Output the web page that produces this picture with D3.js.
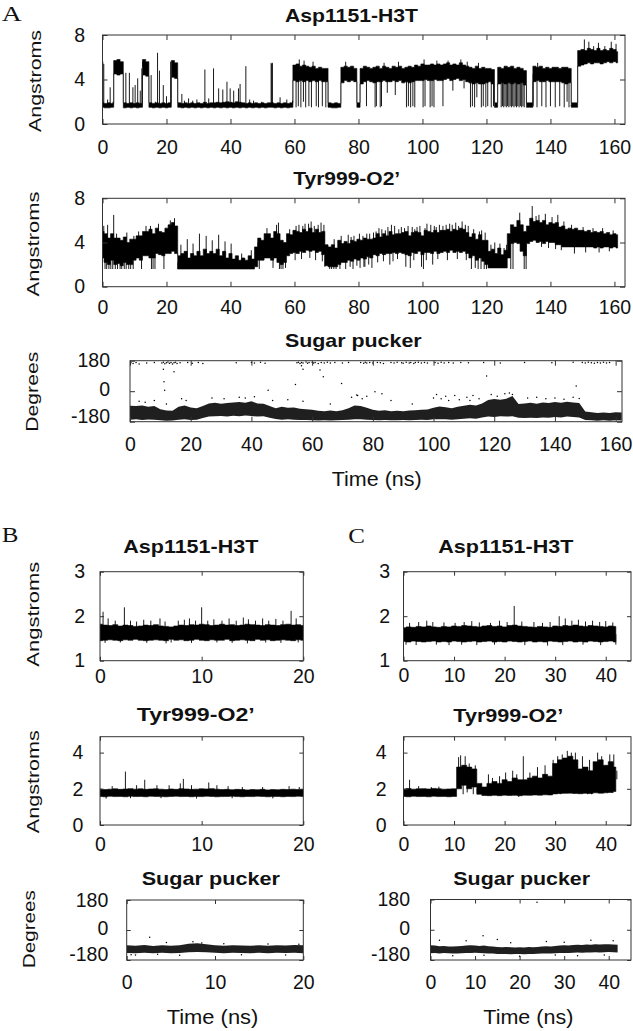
<!DOCTYPE html>
<html><head><meta charset="utf-8">
<script src="https://cdn.jsdelivr.net/npm/d3@7"></script>
<style>body{margin:0;background:#fff}svg{display:block}</style>
</head><body>
<svg id="c" width="633" height="1031"></svg>
<script>
// ================= DATA =================
// Each distance trace = dense core band (lower/upper edge per time step) + isolated excursions (time, value).

// ---- Panel A, Asp1151-H3T (Angstroms), band every 1 ns ----
const aspALo = [
1.5,1.45,1.45,1.5,4.5,4.4,4.5,1.45,1.5,1.45, 1.5,1.45,1.5,4.4,4.3,1.5,1.45,1.5,1.45,1.5,
1.45,1.5,4.2,4.1,1.5,1.45,1.5,1.45,1.5,1.45, 1.5,1.45,1.5,1.45,1.5,1.45,1.5,1.45,1.5,1.45,
1.5,1.45,1.5,1.45,1.5,1.45,1.5,1.45,1.5,1.45, 1.5,1.45,1.5,1.5,1.45,1.5,1.45,1.5,1.45,1.5,
3.9,3.8,3.9,3.8,3.9,3.8,3.9,3.8,3.9,3.8, 3.8,1.5,1.45,1.45,1.5,3.7,3.9,3.8,3.9,3.8,
1.5,3.6,3.8,3.9,3.8,3.7,3.8,3.8,3.9,3.8, 3.8,3.9,3.8,3.9,3.7,3.8,3.7,3.8,3.9,3.9,
3.9,4.0,3.9,3.9,4.0,3.9,3.9,4.0,4.1,3.9, 4.0,4.1,3.9,4.0,3.8,3.7,3.6,3.7,3.6,3.6,
3.7,3.8,3.6,1.5,3.6,3.7,3.6,3.7,3.6,3.7, 3.6,3.7,3.5,1.5,1.5,3.8,3.9,3.8,3.8,3.9,
3.8,3.8,3.8,3.8,3.7,3.6,3.7,1.5,1.5,5.2, 5.3,5.4,5.5,5.4,5.5,5.5,5.4,5.5,5.6,5.5,
5.6,5.5];
const aspAHi = [
1.9,1.85,1.9,1.85,5.7,5.8,5.6,1.9,1.85,1.9, 1.85,1.9,1.85,5.8,5.6,1.9,1.85,1.9,1.85,1.9,
1.85,1.9,5.7,5.5,1.9,1.85,1.9,1.85,1.9,1.85, 1.9,1.85,1.95,1.85,1.9,1.9,1.95,1.9,1.95,2.0,
1.95,1.9,2.0,1.95,1.9,1.85,1.9,1.85,1.9,1.85, 1.9,1.85,1.9,1.9,1.85,1.9,1.85,1.9,1.85,1.9,
5.3,5.4,5.2,5.3,5.2,5.1,5.2,5.0,5.1,5.0, 5.0,1.9,1.85,1.9,1.85,5.1,5.2,5.1,5.2,5.0,
1.9,5.0,5.2,5.1,5.0,5.1,5.2,5.0,5.2,5.1, 5.0,5.2,5.1,5.2,5.0,5.1,5.2,5.1,5.3,5.2,
5.4,5.3,5.3,5.4,5.3,5.4,5.3,5.4,5.5,5.3, 5.4,5.3,5.5,5.3,5.2,5.1,5.0,5.2,5.0,5.1,
5.0,5.0,4.9,1.9,5.1,5.0,5.2,5.1,5.2,5.0, 5.1,5.0,4.8,1.9,1.9,5.2,5.1,5.2,5.0,5.1,
5.0,5.1,5.1,5.0,5.1,5.1,5.0,1.9,1.9,6.6, 6.7,6.6,6.8,6.7,6.6,6.8,6.6,6.7,6.6,6.8,
6.7,6.5];
const aspASpT = [0.1,0.4,1.6,2.4,3.3,7.3,8.4,9.5,10.2,11.0,11.8,12.3,12.6,15.2,16.5,17.2,17.8,19.0,20.0,21.3,
24.8,25.6,26.9,28.2,29.5,32.0,33.2,34.7,36.3,37.6,38.9,39.9,41.0,42.5,43.0,44.8,46.0,47.2,49.8,52.7,
52.9,53.1,55.5,57.6,59.4,
60.5,61.2,62.0,62.8,63.5,64.5,65.3,66.8,67.5,68.7,69.8,70.6,82.5,85.2,85.6,86.8,87.2,89.0,91.5,95.0,
95.6,96.3,97.0,97.6,100.2,100.8,102.4,103.0,103.6,106.4,109.5,113.0,115.0,115.6,116.3,117.0,118.4,119.0,119.8,120.4,
121.5,122.2,124.6,125.0,125.4,125.8,126.2,126.6,127.0,127.4,127.8,128.2,128.6,129.0,129.4,129.8,130.2,130.6,131.0,131.4,
131.8,134.6,135.8,137.3,138.6,140.0,141.5,142.9,144.3,145.2,145.8,146.5,
61.5,63.0,65.8,76.0,88.0,92.5,100.5,104.5,108.0,112.0,114.0,117.5,136.0,150.6,152.0,153.5,155.0,157.0,159.0,160.5];
const aspASpV = [5.6,5.4,2.2,3.3,2.0,4.6,4.6,3.3,3.5,4.1,3.0,5.0,5.6,4.4,2.0,6.4,4.8,3.5,2.5,5.6,
2.7,2.1,2.3,2.1,2.2,4.9,2.3,5.0,3.2,3.1,3.8,3.2,3.0,3.2,3.6,5.2,2.2,2.1,2.0,5.5,
5.4,5.5,2.4,2.2,2.1,
1.5,1.6,1.5,2.0,1.5,1.6,1.5,1.6,1.5,1.6,1.5,1.6,1.6,1.5,1.6,1.5,1.6,2.8,2.6,1.5,
1.6,1.5,1.6,1.5,1.5,1.6,1.5,1.6,1.5,1.6,3.0,3.2,1.5,1.6,1.5,2.4,1.5,1.6,1.5,1.6,
1.5,1.6,1.5,1.6,1.5,1.6,1.5,1.6,1.5,1.6,1.5,1.6,1.5,1.6,1.5,1.6,1.5,1.6,1.5,1.6,
1.5,1.6,1.5,1.6,1.5,1.6,1.5,1.6,1.5,2.0,1.5,1.6,
5.8,5.7,5.6,5.6,5.5,5.6,5.8,5.7,5.7,5.8,5.6,5.5,5.5,7.6,7.4,7.0,7.3,7.0,7.4,7.2];

// ---- Panel A, Tyr999-O2' (Angstroms), band every 1 ns ----
const tyrALo = [
2.6,2.2,2.0,2.4,2.0,2.1,1.9,2.2,2.0,2.0, 2.4,2.6,2.4,2.8,2.8,2.6,2.6,3.0,2.9,2.8,
3.0,3.0,3.2,3.0,1.6,1.6,1.6,1.6,1.6,1.6, 1.6,1.6,1.6,1.6,1.6,1.6,1.6,1.6,1.6,1.6,
1.6,1.6,1.6,1.6,1.6,1.6,1.6,1.6,1.8,2.4, 2.4,2.6,2.6,2.4,2.6,2.2,2.0,2.2,2.8,3.0,
3.1,3.0,3.2,3.1,3.3,3.2,3.3,3.1,3.2,2.9, 1.9,1.8,1.8,1.8,2.0,2.2,2.2,2.4,2.3,2.5,
2.4,2.6,2.5,2.7,2.6,2.9,2.8,3.0,2.9,3.0, 3.0,3.1,3.0,3.1,3.0,2.9,2.8,3.1,3.0,3.2,
2.9,3.1,3.1,3.0,3.2,3.0,3.1,3.2,3.1,3.3, 3.1,3.2,3.1,3.2,3.0,2.6,2.8,2.4,2.6,2.3,
2.0,1.7,1.7,1.7,1.7,1.7,1.7,2.6,3.9,4.0, 3.9,3.2,2.8,3.9,4.1,4.2,4.0,4.1,3.9,4.1,
4.0,4.0,3.8,3.8,3.6,3.6,3.6,3.6,3.6,3.6, 3.6,3.6,3.6,3.6,3.5,3.6,3.5,3.6,3.6,3.5,
3.6,3.5];
const tyrAHi = [
5.0,4.8,4.4,4.8,4.4,4.4,4.2,4.5,4.0,4.3, 4.3,4.6,4.6,5.0,5.0,5.2,4.8,5.3,5.0,4.9,
5.3,5.6,5.8,5.5,2.8,3.0,3.2,2.6,3.0,2.8, 3.2,2.8,3.4,3.0,3.2,3.0,3.4,2.8,3.2,2.6,
3.0,2.5,2.8,2.4,2.6,2.4,2.8,2.5,3.6,4.4, 4.2,4.8,4.8,4.4,5.0,4.8,4.2,4.0,4.8,4.7,
5.1,5.0,4.9,5.2,5.0,5.3,4.9,5.2,4.9,5.0, 3.8,3.6,3.8,3.5,4.2,3.9,4.1,3.9,4.2,4.1,
4.3,4.2,4.4,4.3,4.3,4.4,4.8,4.5,4.8,4.6, 5.0,4.7,4.8,4.8,4.9,5.0,4.6,4.9,5.0,4.9,
4.6,5.1,5.0,4.9,5.1,4.9,5.1,5.1,5.2,5.0, 5.2,5.1,5.3,5.2,4.9,4.5,4.8,4.3,4.7,4.2,
4.2,3.2,3.4,3.0,3.5,2.9,3.3,4.8,5.6,5.4, 6.0,5.6,5.0,5.5,6.2,5.9,6.0,5.8,6.0,5.6,
5.8,5.7,5.8,5.4,5.5,5.2,5.3,5.2,5.3,5.1, 5.1,5.0,5.1,4.9,5.0,4.9,5.0,4.8,4.9,4.7,
4.8,4.7];
const tyrASpT = [0.8,1.3,2.0,2.6,3.2,4.0,4.7,5.5,6.0,6.8,7.4,8.2,8.8,9.6,12.2,15.3,15.8,16.4,19.2,23.6,
49.0,53.3,55.3,55.8,56.4,57.2,69.5,71.0,71.6,72.3,73.0,74.2,76.0,78.3,80.5,82.0,84.2,89.8,94.8,96.2,
99.7,100.3,103.2,115.3,116.5,117.4,118.3,119.3,120.0,127.6,128.3,131.8,132.4,
60.2,62.2,64.8,66.6,68.7,77.4,79.5,81.7,83.2,86.0,87.8,90.8,92.2,97.3,101.2,104.8,107.8,110.9,113.7,147.5,
151.0,155.2,158.4,139.4,141.6,143.4,137.2,
0.4,1.6,3.5,4.4,7.6,9.8,11.3,13.6,15.0,17.5,21.2,22.5,24.5,26.5,28.3,30.3,32.4,34.3,36.3,38.3,
40.2,43.5,46.5,48.6,51.4,54.4,55.0,58.5,60.5,63.3,65.2,67.4,69.2,72.4,74.6,78.6,82.6,86.4,88.4,90.3,
94.4,95.5,98.3,101.4,104.3,106.4,108.5,112.4,118.5,130.4,134.3,135.5,136.4,138.4,140.5,142.3,144.2,146.6,150.2,153.3,
156.3,159.6,
61.4,62.6,64.4,66.2,68.3,76.8,77.7,80.3,81.4,83.5,84.7,85.5,87.3,89.2,91.3,92.6,93.4,96.8,97.6,99.2,
100.8,102.6,103.7,105.3,107.4,109.3,110.4,111.3,113.4,114.3,116.0,117.8,119.6,121.4,122.6,124.2,125.5,126.3];
const tyrASpV = [1.6,1.6,1.6,1.6,1.6,1.6,1.6,1.6,1.6,1.6,1.6,1.6,1.6,1.6,1.6,1.6,1.6,1.6,1.6,1.6,
1.6,1.7,1.6,1.6,1.6,1.7,1.8,1.6,1.6,1.6,1.6,1.6,1.6,1.6,1.7,1.8,1.7,2.0,1.8,1.7,
1.8,1.6,2.0,1.6,1.7,1.6,1.6,1.6,1.6,1.6,1.6,1.6,1.6,
2.4,2.5,2.6,2.4,2.3,1.8,1.9,1.8,2.0,2.2,2.3,2.3,2.5,2.4,2.4,2.5,2.4,2.5,2.4,3.0,
3.1,3.1,3.2,3.5,3.4,3.3,3.6,
5.5,5.6,6.5,4.8,4.9,4.6,5.0,5.5,5.5,5.7,6.0,6.2,3.8,4.3,3.9,4.8,4.6,4.2,4.7,4.1,
3.9,3.0,3.3,4.0,5.3,5.6,5.8,5.2,5.5,5.7,5.9,5.6,5.6,4.3,4.6,4.6,4.8,5.3,5.1,5.6,
5.3,5.5,5.4,5.7,5.4,5.5,5.7,5.9,5.1,6.7,7.3,6.4,6.5,6.6,6.3,6.5,5.9,5.6,5.4,5.3,
5.3,5.1,
5.6,5.5,5.7,5.5,5.8,4.7,4.5,4.8,4.6,4.8,4.9,5.0,5.2,5.4,5.5,5.2,5.4,5.4,5.2,5.5,
5.3,5.6,5.5,5.6,5.6,5.6,5.8,5.5,5.6,5.5,5.2,5.0,4.9,3.8,4.0,3.9,3.5,3.8];

// ---- Panel A, sugar pucker (degrees): dense band edges every 2 ns + isolated points ----
const sugarALo = [-168,-166,-170,-167,-168,-172,-174,-173,-168,-166,-170,-168,-158,-150,-148,-146,-150,-145,-148,-144,-146,-150,-148,-156,-164,-168,-166,-168,-170,-170,-172,-173,-172,-173,-172,-170,-168,-165,-166,-168,-170,-172,-170,-172,-172,-170,-171,-170,-168,-170,-166,-165,-166,-168,-165,-162,-160,-162,-155,-150,-152,-148,-150,-148,-156,-158,-156,-158,-155,-156,-152,-155,-150,-152,-155,-170,-172,-174,-172,-174,-172,-173];
const sugarAHi = [-86,-88,-84,-92,-88,-106,-114,-116,-92,-84,-96,-100,-88,-72,-68,-74,-70,-66,-63,-68,-60,-72,-74,-88,-100,-92,-98,-96,-104,-106,-110,-116,-118,-114,-118,-112,-100,-84,-88,-98,-110,-116,-112,-118,-116,-118,-114,-112,-110,-108,-98,-90,-94,-100,-92,-86,-80,-84,-72,-52,-46,-50,-44,-28,-76,-72,-68,-74,-66,-70,-64,-68,-62,-66,-70,-120,-124,-128,-126,-128,-124,-126];
const sugarAPtT = [0.3,1,2,3,5.5,8,10.5,11,11.5,12,12.5,13,13.5,14,14.5,15,15.5,16.5,19,20.5,22.5,24,35,40,41,43,44.5,55,55.5,56,56.5,57,58,58.5,59,60,60.5,61,62,63,64,65,66,67.5,70,72,76,77,77.5,78,79,80,81.5,82.5,83.5,86,87,88,89.5,90,91,92,92.5,93.5,94,95,96,97,98,100.5,101.5,102.5,103.5,105,106.5,109,111.5,116.5,122,130,139,146,149,150,151,152,153,154,155,156,157,158,
11,11.2,11.4,14.5,45.5,54.5,56.5,57,62.6,63.7,69.7,74.7,80.7,117.5,147,
3,5,8,12,17,18.5,27,31,36,38,41,47,52,57,66,73,75,76.5,78,83,86,93,100,101,102.5,104,105,107,108.5,111,112,113,115,119,121,123.5,125,126,131,134,137,140,143,146,148];
const sugarAPtV = [168,164,170,160,167,170,166,171,162,168,172,165,170,160,168,171,164,168,170,165,169,163,168,170,166,171,165,168,171,164,170,166,172,165,169,171,166,170,164,170,167,171,166,170,166,170,169,165,171,167,170,166,170,168,164,170,166,171,168,165,171,167,170,164,169,171,166,170,167,170,165,171,167,170,166,170,168,170,166,170,168,171,170,166,171,168,165,170,167,171,166,169,
130,56,6,115,5,40,150,130,125,85,46,-23,-3,90,30,
-60,-65,-55,-75,-45,-55,-40,-45,-35,-40,-33,-55,-50,-60,-75,-35,-25,-45,-30,-15,-55,-75,-40,-20,-45,-30,-55,-25,-50,-35,-55,-25,-45,-20,-30,-15,-10,-20,-40,-35,-45,-40,-47,-35,-43];

// ---- Panel B (Angstroms / degrees), bands every 0.5 ns ----
const aspBLo = [1.45,1.46,1.47,1.46,1.45,1.47,1.46,1.48,1.46,1.45,1.46,1.47,1.46,1.45,1.48,1.46,1.47,1.45,1.46,1.48,1.46,1.45,1.47,1.46,1.46,1.48,1.45,1.46,1.47,1.46,1.45,1.48,1.46,1.47,1.45,1.46,1.47,1.46,1.45,1.47,1.46];
const aspBHi = [1.82,1.8,1.79,1.81,1.78,1.8,1.79,1.77,1.78,1.8,1.79,1.81,1.78,1.77,1.76,1.78,1.8,1.79,1.81,1.8,1.82,1.81,1.79,1.8,1.82,1.8,1.81,1.79,1.8,1.82,1.81,1.8,1.79,1.81,1.8,1.79,1.81,1.82,1.8,1.81,1.79];
const aspBSpT = [0.3,0.8,1.5,2.4,3.0,3.6,4.3,5.0,5.9,6.4,7.7,8.3,8.8,9.4,10.0,10.6,11.2,12.0,12.7,13.4,14.1,14.6,15.3,16.0,16.6,17.3,18.0,18.8,19.3,
0.5,2.0,4.6,6.5,7.0,9.0,11.5,13.0,14.5,16.3,17.8,19.5];
const aspBSpV = [2.1,1.95,1.9,2.2,1.9,1.88,1.92,1.9,1.95,1.88,1.9,1.92,1.95,1.9,2.2,1.9,1.93,1.9,1.95,1.9,1.97,1.93,1.9,1.95,1.9,1.94,1.9,2.12,1.95,
1.4,1.41,1.4,1.39,1.41,1.4,1.41,1.4,1.39,1.41,1.4,1.41];
const tyrBLo = [1.58,1.56,1.59,1.57,1.58,1.56,1.59,1.57,1.58,1.56,1.59,1.58,1.57,1.56,1.58,1.59,1.57,1.58,1.56,1.58,1.57,1.59,1.58,1.56,1.57,1.58,1.59,1.57,1.56,1.58,1.57,1.59,1.58,1.56,1.57,1.58,1.56,1.58,1.57,1.59,1.58];
const tyrBHi = [1.99,1.96,1.98,2.0,1.97,1.99,2.01,1.98,2.0,1.97,1.99,2.0,1.98,1.96,1.99,1.97,2.01,1.99,1.97,1.98,2.0,1.99,2.01,1.98,1.96,1.97,1.95,1.97,1.96,1.94,1.96,1.95,1.97,1.94,1.96,1.95,1.97,1.96,1.98,1.96,1.97];
const tyrBSpT = [2.5,1.2,4.4,3.6,5.6,6.8,7.9,8.2,9.0,10.7,11.5,12.6,14.0,16.0,18.6,19.6,0.6,3.0,6.0,9.5,13.0,17.0];
const tyrBSpV = [2.95,2.15,2.5,2.2,2.2,2.2,2.3,2.55,2.2,2.35,2.2,2.15,2.1,2.1,2.15,2.1,1.46,1.48,1.48,1.46,1.48,1.47];
const sugarBLo = [-138,-140,-136,-139,-137,-140,-138,-134,-132,-134,-137,-139,-136,-138,-140,-137,-139,-136,-138,-137,-139];
const sugarBHi = [-92,-94,-90,-96,-92,-94,-91,-82,-80,-86,-92,-94,-91,-93,-95,-92,-94,-91,-93,-90,-92];
const sugarBPtT = [2.6,4.5,7.5,8.5,1,0.5,3.5,6,11,13,16,18,19.5];
const sugarBPtV = [-44,-75,-70,-78,-150,-148,-145,-152,-82,-148,-84,-150,-85];

// ---- Panel C (Angstroms / degrees), bands every 1 ns ----
const aspCLo = [1.43,1.42,1.44,1.43,1.42,1.43,1.44,1.42,1.43,1.42,1.44,1.43,1.42,1.43,1.44,1.42,1.43,1.44,1.42,1.43,1.42,1.44,1.43,1.42,1.43,1.44,1.42,1.43,1.42,1.44,1.43,1.42,1.43,1.44,1.42,1.43,1.42,1.44,1.43,1.42,1.43,1.44,1.42];
const aspCHi = [1.74,1.76,1.75,1.77,1.76,1.78,1.76,1.75,1.77,1.76,1.78,1.77,1.79,1.78,1.77,1.76,1.78,1.79,1.77,1.78,1.76,1.79,1.8,1.78,1.77,1.76,1.75,1.77,1.76,1.75,1.78,1.77,1.79,1.78,1.8,1.78,1.77,1.79,1.78,1.77,1.76,1.78,1.77];
const aspCSpT = [1.2,3.0,4.6,5.8,8.0,10.2,12.0,13.5,15.0,17.2,19.0,20.5,21.9,23.4,25.8,27.5,29.0,30.8,32.0,33.3,34.6,36.0,37.4,38.8,40.0,41.4,
0.5,2.5,6.5,9.0,11.5,14.5,18.0,24.0,28.5,31.5,35.5,39.0,42.0];
const aspCSpV = [1.85,1.87,1.9,1.87,1.86,1.85,1.87,1.89,1.86,1.85,1.9,1.87,2.23,1.88,1.87,1.85,1.87,2.0,1.95,1.9,1.92,1.88,1.9,1.87,1.89,1.86,
1.36,1.35,1.36,1.35,1.36,1.35,1.36,1.35,1.34,1.35,1.36,1.35,1.36];
const tyrCLo = [1.58,1.56,1.59,1.57,1.58,1.56,1.59,1.57,1.58,1.56,1.58,2.0,2.2,2.0,2.1,1.7,1.63,1.62,1.64,1.62,1.65,1.63,1.64,1.62,1.65,1.64,1.66,1.65,1.67,1.66,1.72,1.74,1.75,1.76,1.74,1.73,1.75,1.74,1.78,1.76,1.78,1.8,1.85];
const tyrCHi = [1.99,2.02,1.98,2.0,2.01,1.99,2.02,2.0,1.98,1.99,2.0,3.2,3.3,3.2,3.1,2.3,2.1,2.3,2.4,2.3,2.5,2.4,2.6,2.5,2.5,2.6,2.7,2.6,2.8,2.7,3.4,3.6,3.7,3.8,3.6,3.1,3.2,3.0,3.5,3.6,3.3,3.5,3.2];
const tyrCSpT = [1.2,3.0,5.5,7.0,10.9,11.3,12.2,13.0,14.2,16.8,17.6,19.0,20.2,21.6,22.4,23.7,25.0,26.5,28.0,29.6,30.5,31.4,32.4,33.2,34.0,35.4,36.8,37.7,38.4,39.2,40.8,41.6,42.2,
11.8,12.6,13.8,14.6,22.8,31.0,33.6,36.4,37.2,39.6,40.4,41.2];
const tyrCSpV = [2.5,2.15,2.1,2.12,3.75,3.85,3.8,3.4,3.3,2.8,2.6,2.7,2.9,3.0,2.8,3.8,2.9,3.2,3.3,3.6,3.8,3.9,4.1,4.0,4.0,3.8,3.6,3.4,4.0,3.8,3.9,3.9,3.0,
1.7,1.8,1.7,1.75,1.55,1.7,1.75,1.7,1.7,1.75,1.78,1.8];
const sugarCLo = [-140,-139,-141,-138,-140,-142,-141,-140,-139,-138,-137,-139,-140,-141,-142,-144,-145,-144,-146,-145,-144,-146,-145,-144,-143,-142,-141,-142,-140,-139,-138,-139,-137,-136,-137,-135,-136,-134,-135,-134,-133,-134,-135];
const sugarCHi = [-92,-94,-98,-96,-99,-100,-98,-96,-94,-92,-94,-96,-94,-98,-100,-102,-104,-102,-104,-106,-104,-106,-102,-104,-102,-100,-98,-99,-96,-94,-92,-94,-91,-89,-90,-88,-89,-86,-88,-87,-86,-88,-89];
const sugarCPtT = [11.8,23.9,2,8,15,26,36,41,5,12,20,28,33,39,18,30];
const sugarCPtV = [-36,164,-62,-66,-58,-70,-62,-66,-155,-152,-158,-150,-155,-150,-78,-75];

// ---- Ticks and texts ----
const xTicksA = [0,20,40,60,80,100,120,140,160];
const xTicksB = [0,10,20];
const xTicksC = [0,10,20,30,40];
const yTicksDistA = [0,4,8];
const yTicksAspBC = [1,2,3];
const yTicksTyrBC = [0,2,4];
const yTicksSugar = [-180,0,180];
const titleAsp = "Asp1151-H3T", titleTyr = "Tyr999-O2\u2019", titleSugar = "Sugar pucker";
const yLabDist = "Angstroms", yLabAng = "Degrees", xLabTime = "Time (ns)";
const panelLetters = ["A","B","C"];

// ================= LAYOUT =================
const FONT = "'Liberation Sans', Arial, Helvetica, sans-serif";
const svg = d3.select("#c");

const panels = [
 {k:"A1",kind:"line",lo:aspALo,hi:aspAHi,bstep:1,spT:aspASpT,spV:aspASpV,box:[102.5,35,625,124],xd:[0,163.3],yd:[0,8],xt:xTicksA,yt:yTicksDistA,xpad:16,ypad:17.5,tick:5,
  title:[titleAsp,351.5,21.7,133], ylab:[yLabDist,40.7,81,102]},
 {k:"A2",kind:"line",lo:tyrALo,hi:tyrAHi,bstep:1,spT:tyrASpT,spV:tyrASpV,box:[102.5,198.3,625,286.7],xd:[0,163.3],yd:[0,8],xt:xTicksA,yt:yTicksDistA,xpad:13.3,ypad:17.5,tick:5,
  title:[titleTyr,346.7,185,107], ylab:[yLabDist,39.3,244,105]},
 {k:"A3",kind:"sugar",lo:sugarALo,hi:sugarAHi,bstep:2,pt:sugarAPtT,pv:sugarAPtV,box:[130,360.7,622,421.7],xd:[0,162.1],yd:[-180,180],xt:xTicksA,yt:yTicksSugar,xpad:15,ypad:20,tick:5,
  title:[titleSugar,353.3,346.7,136.7], ylab:[yLabAng,38,391.7,80], xlab:[xLabTime,376.7,485.7,90]},
 {k:"B1",kind:"line",lo:aspBLo,hi:aspBHi,bstep:0.5,spT:aspBSpT,spV:aspBSpV,box:[100,571.7,303.3,660.7],xd:[0,20],yd:[1,3],xt:xTicksB,yt:yTicksAspBC,xpad:8,ypad:15,tick:4,
  title:[titleAsp,190.8,553.3,135], ylab:[yLabDist,38.5,614.2,105]},
 {k:"B2",kind:"line",lo:tyrBLo,hi:tyrBHi,bstep:0.5,spT:tyrBSpT,spV:tyrBSpV,box:[100,736.7,303.3,825],xd:[0,20],yd:[0,4.88],xt:xTicksB,yt:yTicksTyrBC,xpad:11.7,ypad:16.7,tick:4,
  title:[titleTyr,195.8,721,118], ylab:[yLabDist,38.5,781.7,103]},
 {k:"B3",kind:"sugar",lo:sugarBLo,hi:sugarBHi,bstep:1,pt:sugarBPtT,pv:sugarBPtV,box:[126.7,900,303.3,960],xd:[0,20],yd:[-180,180],xt:xTicksB,yt:yTicksSugar,xpad:15,ypad:18.4,tick:4,
  title:[titleSugar,210.8,885,138.3], ylab:[yLabAng,34.5,929.2,78], xlab:[xLabTime,212.5,1024,91.7]},
 {k:"C1",kind:"line",lo:aspCLo,hi:aspCHi,bstep:1,spT:aspCSpT,spV:aspCSpV,box:[403.5,571.7,631,660.7],xd:[0,45],yd:[1,3],xt:xTicksC,yt:yTicksAspBC,xpad:7.5,ypad:13.5,tick:4,
  title:[titleAsp,505.8,553.3,135]},
 {k:"C2",kind:"line",lo:tyrCLo,hi:tyrCHi,bstep:1,spT:tyrCSpT,spV:tyrCSpV,box:[403.5,736.7,631,825],xd:[0,45],yd:[0,4.88],xt:xTicksC,yt:yTicksTyrBC,xpad:11.7,ypad:16.8,tick:4,
  title:[titleTyr,508.3,721.7,110]},
 {k:"C3",kind:"sugar",lo:sugarCLo,hi:sugarCHi,bstep:1,pt:sugarCPtT,pv:sugarCPtV,box:[430.5,899.5,631,960],xd:[0,45],yd:[-180,180],xt:xTicksC,yt:yTicksSugar,xpad:15,ypad:20.5,tick:4,
  title:[titleSugar,521.7,885,136.7], xlab:[xLabTime,528.3,1024,90]}
];
const sugarLabelShift = {"180":0,"0":-2,"-180":-5.5};
const defs = svg.append("defs");

function bandMid(lo, hi, step, t){
  const i = Math.max(0, Math.min(Math.round(t/step), lo.length-1));
  return (lo[i]+hi[i])/2;
}

function drawPanel(p){
  const [x0,y0,x1,y1] = p.box;
  const x = d3.scaleLinear().domain(p.xd).range([x0,x1]);
  const y = d3.scaleLinear().domain(p.yd).range([y1,y0]);
  const g = svg.append("g");
  defs.append("clipPath").attr("id","clip"+p.k).append("rect")
    .attr("x",x0).attr("y",y0).attr("width",x1-x0).attr("height",y1-y0);
  const plot = g.append("g").attr("clip-path",`url(#clip${p.k})`);
  const band = p.lo.map((v,i)=>({t:i*p.bstep, lo:v, hi:p.hi[i]}));
  if(p.kind==="line"){
    const area = d3.area().curve(d3.curveStep).x(d=>x(d.t)).y0(d=>y(d.lo)).y1(d=>y(d.hi));
    plot.append("path").datum(band).attr("d",area)
      .attr("fill","#000").attr("stroke","#000").attr("stroke-width",0.6);
    const line = d3.line().x(d=>x(d[0])).y(d=>y(d[1]));
    plot.selectAll("path.sp").data(p.spT.map((t,i)=>[[t,bandMid(p.lo,p.hi,p.bstep,t)],[t,p.spV[i]]])).join("path")
      .attr("class","sp").attr("d",line).attr("fill","none").attr("stroke","#000").attr("stroke-width",0.9);
  } else {
    const area = d3.area().x(d=>x(d.t)).y0(d=>y(d.lo)).y1(d=>y(d.hi));
    plot.append("path").datum(band).attr("d",area)
      .attr("fill","#000").attr("fill-opacity",0.88);
    plot.selectAll("circle.pt").data(p.pt.map((t,i)=>[t,p.pv[i]])).join("circle")
      .attr("class","pt").attr("cx",d=>x(d[0])).attr("cy",d=>y(d[1])).attr("r",0.75).attr("fill","#000");
  }
  const fmt = d=>String(d);
  const ax = [
    {a:d3.axisBottom(x).tickValues(p.xt).tickFormat(fmt).tickPadding(p.xpad), t:`translate(0,${y1})`},
    {a:d3.axisTop(x).tickValues(p.xt).tickFormat(""), t:`translate(0,${y0})`},
    {a:d3.axisLeft(y).tickValues(p.yt).tickFormat(fmt).tickPadding(p.ypad), t:`translate(${x0},0)`, left:true},
    {a:d3.axisRight(y).tickValues(p.yt).tickFormat(""), t:`translate(${x1},0)`}
  ];
  ax.forEach(o=>{
    const ag = g.append("g").attr("transform",o.t)
      .call(o.a.tickSizeInner(-p.tick).tickSizeOuter(0));
    ag.select(".domain").remove();
    ag.selectAll("line").attr("stroke","#333").attr("stroke-width",1);
    ag.selectAll("text").attr("font-family",FONT).attr("font-size",19.5).attr("fill","#111");
    if(o.left && p.kind==="sugar"){
      ag.selectAll("text").attr("transform",d=>`translate(0,${sugarLabelShift[String(d)]||0})`);
    }
  });
  g.append("rect").attr("x",x0).attr("y",y0).attr("width",x1-x0).attr("height",y1-y0)
    .attr("fill","none").attr("stroke","#333").attr("stroke-width",1);
  const [tt,tx,ty,tw] = p.title;
  g.append("text").attr("x",tx).attr("y",ty).attr("text-anchor","middle")
    .attr("font-family",FONT).attr("font-weight","bold").attr("font-size",19)
    .attr("textLength",tw).attr("lengthAdjust","spacingAndGlyphs").attr("fill","#111").text(tt);
  if(p.ylab){
    const [lt,lx,ly,lw] = p.ylab;
    g.append("text").attr("transform",`translate(${lx},${ly}) rotate(-90)`).attr("text-anchor","middle")
      .attr("font-family",FONT).attr("font-size",16).attr("textLength",lw).attr("lengthAdjust","spacingAndGlyphs")
      .attr("fill","#111").text(lt);
  }
  if(p.xlab){
    const [lt,lx,ly,lw] = p.xlab;
    g.append("text").attr("x",lx).attr("y",ly).attr("text-anchor","middle")
      .attr("font-family",FONT).attr("font-size",20).attr("textLength",lw).attr("lengthAdjust","spacingAndGlyphs")
      .attr("fill","#111").text(lt);
  }
}
panels.forEach(drawPanel);

const letterPos = [[1.7,20.7,20],[1.7,541.7,16.7],[348.3,543.3,16.7]];
svg.selectAll("text.letter").data(panelLetters).join("text").attr("class","letter")
  .attr("x",(d,i)=>letterPos[i][0]).attr("y",(d,i)=>letterPos[i][1])
  .attr("textLength",(d,i)=>letterPos[i][2]).attr("lengthAdjust","spacingAndGlyphs")
  .attr("font-family","'Liberation Serif', 'Times New Roman', serif").attr("font-size",22).attr("fill","#111")
  .text(d=>d);
</script>
</body></html>
